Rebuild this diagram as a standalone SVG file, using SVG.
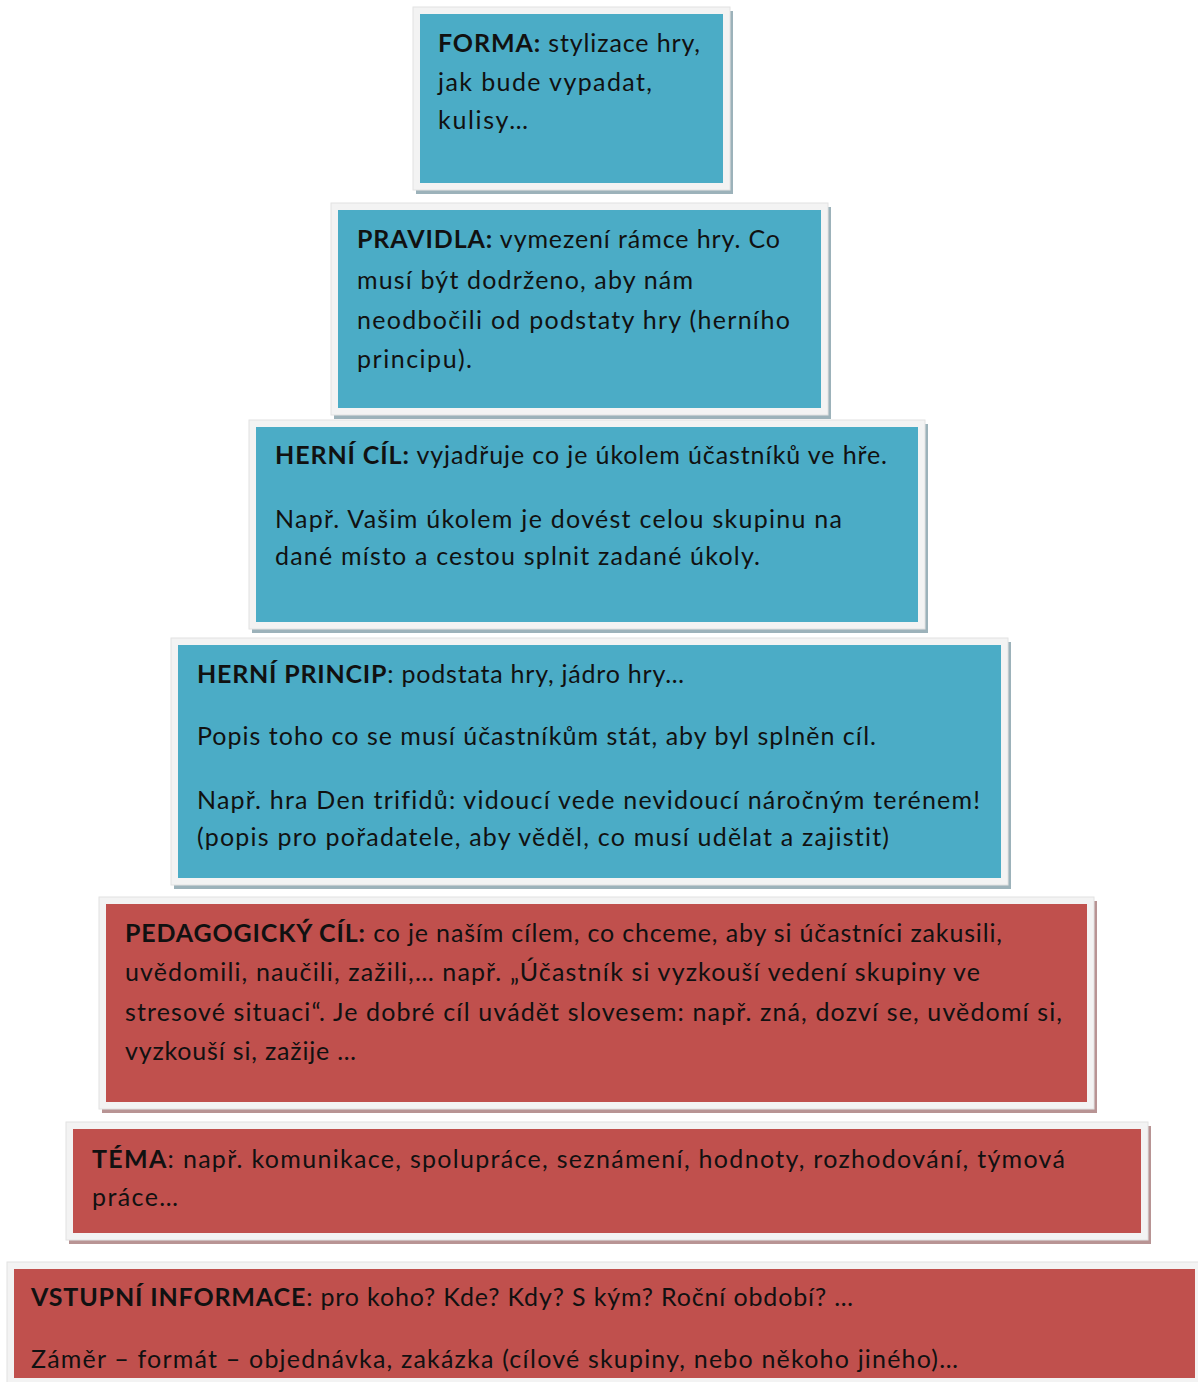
<svg xmlns="http://www.w3.org/2000/svg" width="1198" height="1382" viewBox="0 0 1198 1382">
<style>
.t{font-family:Lato,"Open Sans","Liberation Sans",sans-serif;font-size:25px;fill:#111;font-variant-ligatures:none;}
.b{font-weight:bold;}
.frame{fill:#f3f3f3;stroke:#e2e2e2;stroke-width:1;}
.shB{fill:#9cb2ba;}
.shR{fill:#b89494;}
.blue{fill:#4bacc6;}
.red{fill:#c0504d;}
</style>
<defs>
<clipPath id="clip7"><rect x="0" y="1262" width="1198" height="110"/></clipPath>
</defs>
<rect x="0" y="0" width="1198" height="1382" fill="#ffffff"/>

<g id="forma">
<rect class="shB" x="416" y="11" width="317" height="183"/>
<rect class="frame" x="413" y="7" width="317" height="183"/>
<rect class="blue" x="420" y="14" width="303" height="169"/>
<text class="t" x="438" y="52" textLength="262"><tspan class="b">FORMA:</tspan> stylizace hry,</text>
<text class="t" x="438" y="91" textLength="214">jak bude vypadat,</text>
<text class="t" x="438" y="129" textLength="90">kulisy…</text>
</g>

<g id="pravidla">
<rect class="shB" x="334" y="207" width="497" height="212"/>
<rect class="frame" x="331" y="203" width="497" height="212"/>
<rect class="blue" x="338" y="210" width="483" height="198"/>
<text class="t" x="357" y="248" textLength="423"><tspan class="b">PRAVIDLA:</tspan> vymezení rámce hry. Co</text>
<text class="t" x="357" y="289" textLength="336">musí být dodrženo, aby nám</text>
<text class="t" x="357" y="329" textLength="433">neodbočili od podstaty hry (herního</text>
<text class="t" x="357" y="368" textLength="115">principu).</text>
</g>

<g id="herni-cil">
<rect class="shB" x="252" y="424" width="676" height="209"/>
<rect class="frame" x="249" y="420" width="676" height="209"/>
<rect class="blue" x="256" y="427" width="662" height="195"/>
<text class="t" x="275" y="464" textLength="612"><tspan class="b">HERNÍ CÍL:</tspan> vyjadřuje co je úkolem účastníků ve hře.</text>
<text class="t" x="275" y="528" textLength="567">Např. Vašim úkolem je dovést celou skupinu na</text>
<text class="t" x="275" y="565" textLength="485">dané místo a cestou splnit zadané úkoly.</text>
</g>

<g id="herni-princip">
<rect class="shB" x="174" y="642" width="837" height="247"/>
<rect class="frame" x="171" y="638" width="837" height="247"/>
<rect class="blue" x="178" y="645" width="823" height="233"/>
<text class="t" x="197" y="683" textLength="487"><tspan class="b">HERNÍ PRINCIP</tspan>: podstata hry, jádro hry…</text>
<text class="t" x="197" y="745" textLength="679">Popis toho co se musí účastníkům stát, aby byl splněn cíl.</text>
<text class="t" x="197" y="809" textLength="783">Např. hra Den trifidů: vidoucí vede nevidoucí náročným terénem!</text>
<text class="t" x="197" y="846" textLength="692">(popis pro pořadatele, aby věděl, co musí udělat a zajistit)</text>
</g>

<g id="pedagogicky-cil">
<rect class="shR" x="102" y="901" width="995" height="212"/>
<rect class="frame" x="99" y="897" width="995" height="212"/>
<rect class="red" x="106" y="904" width="981" height="198"/>
<text class="t" x="125" y="942" textLength="877"><tspan class="b">PEDAGOGICKÝ CÍL:</tspan> co je naším cílem, co chceme, aby si účastníci zakusili,</text>
<text class="t" x="125" y="981" textLength="855">uvědomili, naučili, zažili,… např. „Účastník si vyzkouší vedení skupiny ve</text>
<text class="t" x="125" y="1021" textLength="937">stresové situaci“. Je dobré cíl uvádět slovesem: např. zná, dozví se, uvědomí si,</text>
<text class="t" x="125" y="1060" textLength="231">vyzkouší si, zažije …</text>
</g>

<g id="tema">
<rect class="shR" x="69" y="1126" width="1082" height="118"/>
<rect class="frame" x="66" y="1122" width="1082" height="118"/>
<rect class="red" x="73" y="1129" width="1068" height="104"/>
<text class="t" x="92" y="1168" textLength="973"><tspan class="b">TÉMA</tspan>: např. komunikace, spolupráce, seznámení, hodnoty, rozhodování, týmová</text>
<text class="t" x="92" y="1206" textLength="86">práce…</text>
</g>

<g id="vstupni-informace">
<rect class="frame" x="7" y="1262" width="1195" height="130"/>
<rect class="red" x="14" y="1269" width="1181" height="109"/>
<text class="t" x="31" y="1306" textLength="822"><tspan class="b">VSTUPNÍ INFORMACE</tspan>: pro koho? Kde? Kdy? S kým? Roční období? …</text>
<text class="t" x="31" y="1368" textLength="927" clip-path="url(#clip7)">Záměr – formát – objednávka, zakázka (cílové skupiny, nebo někoho jiného)…</text>
</g>

<g id="connectors"></g>
</svg>
